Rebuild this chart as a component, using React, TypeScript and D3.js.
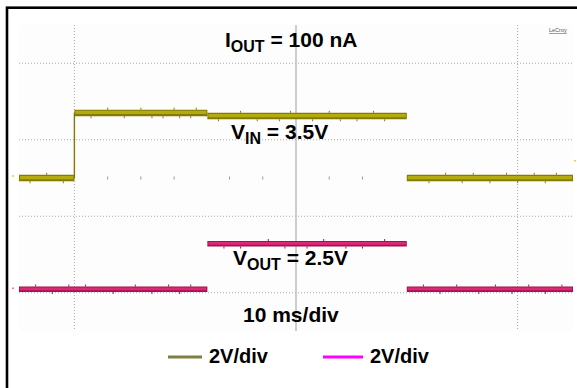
import React from "react";
import * as d3 from "d3";

const W = 577;
const H = 388;

// Scope time base: 10 ms/div, 10 divisions across the screen
const timeDomain: [number, number] = [0, 100];
// Vertical screen divisions (0 = centre line), 8 divisions tall
const divDomain: [number, number] = [-4, 4];

// Dotted graticule lines
const hGridDivs = [-3, -1, 1, 3];
const vGridTimes = [10, 90];
const centreTime = 50;
// Minor tick marks left on the centre axis
const axisTickTimes = [16, 22, 28, 38, 44, 56, 62];

// Channel traces: piecewise levels in screen divisions
const vinSegments = [
  { t0: 0, t1: 10, level: 0 },
  { t0: 10, t1: 34, level: 1.7 },
  { t0: 34, t1: 70, level: 1.62 },
  { t0: 70, t1: 100, level: 0 },
];
const vinStepTime = 10;

const voutSegments = [
  { t0: 0, t1: 34, level: -2.91 },
  { t0: 34, t1: 70, level: -1.72 },
  { t0: 70, t1: 100, level: -2.91 },
];

// Short noise spikes riding on each trace (time, direction)
const vinSpikes = [
  [2, 1], [5, -1], [8, 1], [13, 1], [16, -1], [19, 1], [22, -1], [24, 1], [26, 1], [28, -1],
  [29, 1], [31, 1], [32, -1], [36, 1], [40, -1], [43, 1], [47, 1], [49, -1], [53, 1], [56, -1],
  [58, 1], [61, 1], [64, -1], [66, 1], [74, 1], [77, -1], [80, 1], [82, -1], [85, 1], [88, -1],
  [90, 1], [93, -1], [95, 1], [97, -1],
];
const voutSpikes = [
  [3, -1], [6, 1], [9, -1], [12, -1], [17, 1], [21, -1], [24, 1], [27, -1], [29, 1], [31, -1],
  [37, 1], [40, 1], [45, -1], [48, 1], [52, 1], [55, -1], [59, 1], [62, 1], [66, -1], [73, -1],
  [76, 1], [79, -1], [83, 1], [86, -1], [89, 1], [92, -1], [95, 1], [98, -1],
];

const legendItems = [
  { label: "2V/div", color: "#808040" },
  { label: "2V/div", color: "#ff00ff" },
];

const VIN_DARK = "#837c00";
const VIN_LIGHT = "#b3ab10";
const VOUT_DARK = "#a8104f";
const VOUT_LIGHT = "#dc2878";

const FONT = "'Liberation Sans', Arial, Helvetica, sans-serif";

export default function App() {
  const x = d3.scaleLinear().domain(timeDomain).range([19, 573]);
  const y = d3.scaleLinear().domain(divDomain).range([331, 25]);

  const top = y(divDomain[1]);
  const bottom = y(divDomain[0]);
  const left = x(timeDomain[0]);
  const right = x(timeDomain[1]);

  const levelAt = (segs: { t0: number; t1: number; level: number }[], t: number) => {
    const s = segs.find((d) => t >= d.t0 && t < d.t1) || segs[segs.length - 1];
    return s.level;
  };

  const renderTrace = (
    segs: { t0: number; t1: number; level: number }[],
    spikes: number[][],
    dark: string,
    light: string,
    band: number
  ) => (
    <g>
      {segs.map((s, i) => (
        <line
          key={"o" + i}
          x1={x(s.t0)}
          x2={x(s.t1)}
          y1={y(s.level)}
          y2={y(s.level)}
          stroke={dark}
          strokeWidth={band}
        />
      ))}
      {segs.map((s, i) => (
        <line
          key={"c" + i}
          x1={x(s.t0) + 1}
          x2={x(s.t1) - 1}
          y1={y(s.level) - 0.5}
          y2={y(s.level) - 0.5}
          stroke={light}
          strokeWidth={band * 0.5}
        />
      ))}
      {spikes.map(([t, dir], i) => {
        const yy = y(levelAt(segs, t));
        const edge = yy + dir * (band / 2);
        return (
          <line
            key={"s" + i}
            x1={x(t)}
            x2={x(t)}
            y1={edge}
            y2={edge + dir * 2}
            stroke={dark}
            strokeWidth={1}
          />
        );
      })}
    </g>
  );

  const vinLow = vinSegments[0].level;
  const vinHigh = vinSegments[1].level;

  return (
    <svg
      width={W}
      height={H}
      style={{ position: "absolute", left: 0, top: 0, background: "#fff" }}
      fontFamily={FONT}
    >
      <rect x={0} y={0} width={W} height={H} fill="#fff" />
      {/* outer frame */}
      <rect x={7} y={7.7} width={640} height={460} fill="none" stroke="#000" strokeWidth={2.6} />

      {/* graticule */}
      <rect x={left} y={top} width={right - left} height={bottom - top} fill="#fdfdfd" />
      {hGridDivs.map((d) => (
        <line
          key={"h" + d}
          x1={left}
          x2={right}
          y1={y(d)}
          y2={y(d)}
          stroke="#a8a8a8"
          strokeWidth={1}
          strokeDasharray="1,2"
        />
      ))}
      {vGridTimes.map((t) => (
        <line
          key={"v" + t}
          x1={x(t)}
          x2={x(t)}
          y1={top}
          y2={bottom}
          stroke="#a8a8a8"
          strokeWidth={1}
          strokeDasharray="1,2"
        />
      ))}
      <line x1={x(centreTime)} x2={x(centreTime)} y1={top} y2={bottom} stroke="#bcbcbc" strokeWidth={1.5} />
      {axisTickTimes.map((t) => (
        <line key={"t" + t} x1={x(t)} x2={x(t)} y1={y(0) - 1.5} y2={y(0) + 1.5} stroke="#9a9a9a" strokeWidth={1} />
      ))}

      {/* channel markers */}
      <circle cx={13} cy={y(vinLow) - 2} r={1} fill="#d8d040" />
      <circle cx={13} cy={y(voutSegments[0].level) - 1} r={1} fill="#f070a8" />
      <circle cx={575} cy={y(0.45)} r={1} fill="#d8d040" />

      {/* VIN trace */}
      <line
        x1={x(vinStepTime)}
        x2={x(vinStepTime)}
        y1={y(vinLow)}
        y2={y(vinHigh)}
        stroke={VIN_DARK}
        strokeWidth={1.4}
      />
      {renderTrace(vinSegments, vinSpikes, VIN_DARK, VIN_LIGHT, 6.5)}

      {/* VOUT trace */}
      {renderTrace(voutSegments, voutSpikes, VOUT_DARK, VOUT_LIGHT, 5.5)}

      {/* annotations */}
      <text x={225} y={47} fontSize={21} fontWeight="bold" fill="#000">
        I<tspan fontSize={16} dy={5}>OUT</tspan>
        <tspan dy={-5}> = 100 nA</tspan>
      </text>
      <text x={231} y={139} fontSize={21} fontWeight="bold" fill="#000">
        V<tspan fontSize={16} dy={5}>IN</tspan>
        <tspan dy={-5}> = 3.5V</tspan>
      </text>
      <text x={233} y={265} fontSize={21} fontWeight="bold" fill="#000">
        V<tspan fontSize={16} dy={5}>OUT</tspan>
        <tspan dy={-5}> = 2.5V</tspan>
      </text>
      <text x={243} y={322} fontSize={21} fontWeight="bold" fill="#000">
        10 ms/div
      </text>
      <text x={549} y={32} fontSize={5.5} fill="#555" textDecoration="underline">
        LeCroy
      </text>

      {/* legend */}
      {legendItems.map((item, i) => {
        const lx = i === 0 ? 168 : 323;
        const len = i === 0 ? 34 : 40;
        return (
          <g key={"l" + i}>
            <line x1={lx} x2={lx + len} y1={357} y2={357} stroke={item.color} strokeWidth={3} />
            <text x={lx + len + 7} y={363} fontSize={20} fontWeight="bold" fill="#000">
              {item.label}
            </text>
          </g>
        );
      })}
    </svg>
  );
}
